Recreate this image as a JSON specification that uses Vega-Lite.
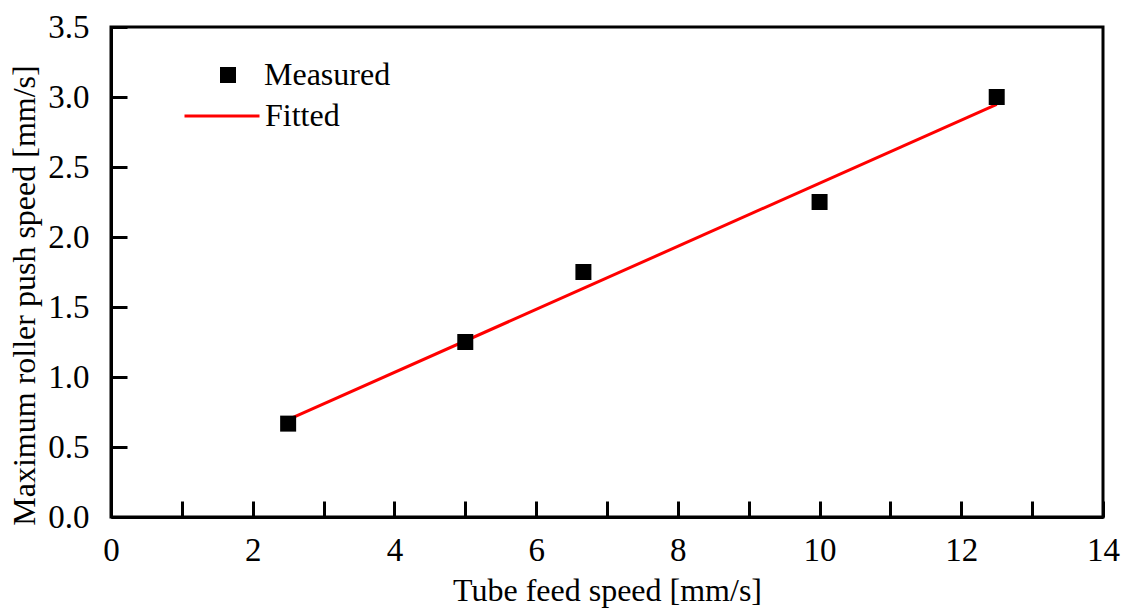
{
  "$schema": "https://vega.github.io/schema/vega-lite/v6.json",
  "width": 992,
  "height": 490,
  "autosize": {"type": "none"},
  "padding": {"left": 111, "top": 27, "right": 18, "bottom": 91},
  "background": "white",
  "config": {
    "view": {"stroke": "black", "strokeWidth": 3},
    "font": "Liberation Serif",
    "axis": {
      "domainColor": "black",
      "domainWidth": 3,
      "tickColor": "black",
      "tickWidth": 3,
      "tickSize": -16,
      "grid": false,
      "labelFont": "Liberation Serif",
      "labelFontSize": 33,
      "labelColor": "black",
      "titleFont": "Liberation Serif",
      "titleFontSize": 32,
      "titleFontWeight": "normal",
      "titleColor": "black"
    },
    "legend": {
      "labelFont": "Liberation Serif",
      "labelFontSize": 32,
      "labelColor": "black",
      "padding": 0
    }
  },
  "datasets": {
    "measured": [
      {"feed": 2.5, "push": 0.667, "series": "Measured"},
      {"feed": 5.0, "push": 1.25, "series": "Measured"},
      {"feed": 6.667, "push": 1.75, "series": "Measured"},
      {"feed": 10.0, "push": 2.25, "series": "Measured"},
      {"feed": 12.5, "push": 3.0, "series": "Measured"}
    ],
    "fitted": [
      {"feed": 2.5, "push": 0.695, "series": "Fitted"},
      {"feed": 12.5, "push": 2.947, "series": "Fitted"}
    ]
  },
  "layer": [
    {
      "data": {"name": "fitted"},
      "mark": {"type": "line", "strokeWidth": 3, "clip": true},
      "encoding": {
        "x": {
          "field": "feed",
          "type": "quantitative",
          "scale": {"domain": [0, 14], "nice": false, "zero": false},
          "axis": {
            "title": "Tube feed speed [mm/s]",
            "values": [0, 1, 2, 3, 4, 5, 6, 7, 8, 9, 10, 11, 12, 13, 14],
            "format": "d",
            "labelExpr": "datum.value % 2 === 0 ? datum.label : ''",
            "labelPadding": 33,
            "titlePadding": 8,
            "labelFlush": false,
            "encode": {
              "ticks": {"update": {"y2": {"signal": "datum.value % 2 === 0 ? -16 : -8"}}}
            }
          }
        },
        "y": {
          "field": "push",
          "type": "quantitative",
          "scale": {"domain": [0, 3.5], "nice": false, "zero": false},
          "axis": {
            "title": "Maximum roller push speed [mm/s]",
            "values": [0, 0.25, 0.5, 0.75, 1, 1.25, 1.5, 1.75, 2, 2.25, 2.5, 2.75, 3, 3.25, 3.5],
            "format": ".1f",
            "labelExpr": "round(datum.value * 4) % 2 === 0 ? datum.label : ''",
            "labelPadding": 38,
            "titlePadding": 6,
            "titleY": 268,
            "labelFlush": false,
            "encode": {
              "ticks": {"update": {"x2": {"signal": "round(datum.value * 4) % 2 === 0 ? 16 : 8"}}}
            }
          }
        },
        "color": {
          "field": "series",
          "type": "nominal",
          "scale": {"domain": ["Fitted"], "range": ["#ff0000"]},
          "legend": {
            "title": null,
            "orient": "none",
            "legendX": 72,
            "legendY": 50,
            "symbolType": "stroke",
            "symbolSize": 5625,
            "symbolStrokeWidth": 3,
            "labelOffset": 4
          }
        }
      }
    },
    {
      "data": {"name": "measured"},
      "mark": {"type": "point", "shape": "square", "filled": true, "size": 256, "opacity": 1},
      "encoding": {
        "x": {"field": "feed", "type": "quantitative"},
        "y": {"field": "push", "type": "quantitative"},
        "color": {
          "field": "series",
          "type": "nominal",
          "scale": {"domain": ["Measured"], "range": ["#000000"]},
          "legend": {
            "title": null,
            "orient": "none",
            "legendX": 101,
            "legendY": 32,
            "symbolType": "square",
            "symbolSize": 256,
            "symbolOpacity": 1,
            "labelOffset": 20
          }
        }
      }
    }
  ],
  "resolve": {"scale": {"color": "independent"}, "legend": {"color": "independent"}}
}
